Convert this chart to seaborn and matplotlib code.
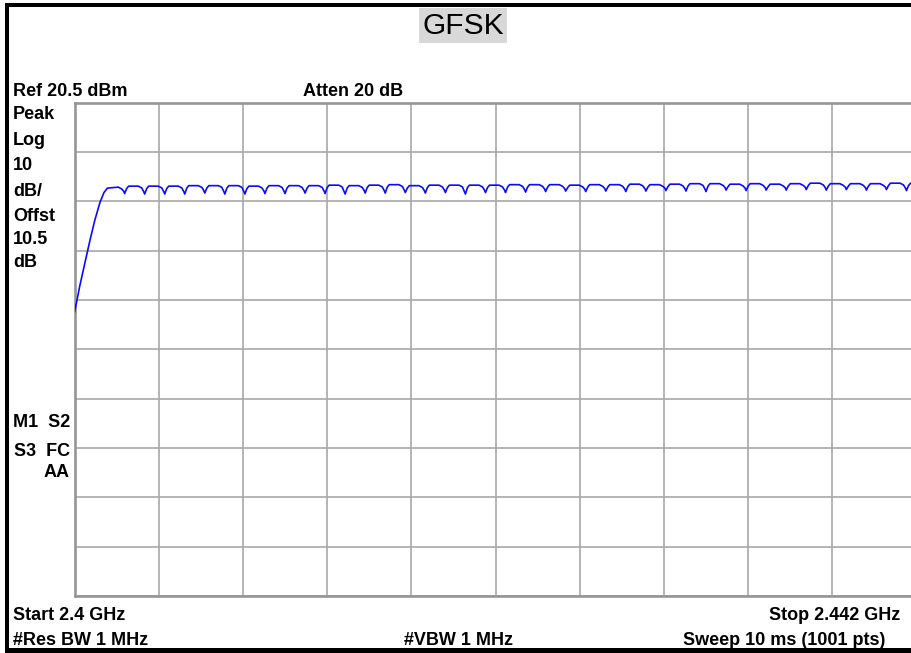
import matplotlib
matplotlib.use("Agg")
import numpy as np
import pandas as pd
import matplotlib.pyplot as plt
import seaborn as sns
from matplotlib.patches import Rectangle

# ---------------- data ----------------
title = "GFSK"
start_ghz = 2.400
stop_ghz = 2.442
ref_dbm = 20.5
db_per_div = 10
n_div = 10

# initial rise of the max-hold trace
rise_freq_ghz = [2.40000, 2.40027, 2.40052, 2.40077, 2.40102, 2.40127, 2.40147, 2.40164]
rise_dbm = [-22.0, -16.5, -11.9, -7.4, -3.2, 0.3, 2.3, 3.2]

# notches between hopping channels (MHz)
notch_mhz = [2402.5, 2403.5, 2404.5, 2405.5, 2406.5, 2407.5, 2408.5, 2409.5, 2410.5, 2411.5,
             2412.5, 2413.5, 2414.5, 2415.5, 2416.5, 2417.5, 2418.5, 2419.5, 2420.5, 2421.5,
             2422.5, 2423.5, 2424.5, 2425.5, 2426.5, 2427.5, 2428.5, 2429.5, 2430.5, 2431.5,
             2432.5, 2433.5, 2434.5, 2435.5, 2436.5, 2437.5, 2438.5, 2439.5, 2440.5, 2441.5]
# plateau level before each notch (last one is the tail after the last notch), dBm
plateau_dbm = [3.4, 3.6, 3.6, 3.6, 3.7, 3.7, 3.7, 3.6, 3.7, 3.7,
               3.7, 3.8, 3.7, 3.8, 3.9, 3.7, 3.8, 3.8, 3.8, 3.8,
               3.9, 3.9, 3.9, 3.8, 3.9, 3.9, 4.0, 3.9, 4.0, 4.1,
               4.1, 4.0, 4.1, 4.0, 4.1, 4.2, 4.1, 4.1, 4.1, 4.2, 4.2]
# bottom of each notch, dBm
notch_dbm = [2.1, 2.0, 2.0, 2.0, 2.2, 2.0, 2.0, 2.1, 2.1, 2.2,
             2.1, 2.0, 2.2, 2.2, 2.3, 2.2, 2.3, 2.0, 2.3, 2.3,
             2.4, 2.5, 2.6, 2.5, 2.6, 2.5, 2.6, 2.7, 2.6, 2.5,
             2.8, 2.7, 2.8, 2.8, 2.9, 2.8, 2.9, 2.8, 2.9, 2.7]

# ---------------- build trace vertices ----------------
xs = list(rise_freq_ghz)
ys = list(rise_dbm)
for k, d in enumerate(notch_mhz):
    p = plateau_dbm[k]
    q = notch_dbm[k]
    pn = plateau_dbm[k + 1]
    for off, lev in [(-0.32, p), (-0.15, p - 0.35), (-0.05, q + 0.5), (0.0, q),
                     (0.10, pn - 0.5), (0.20, pn)]:
        xs.append((d + off) / 1000.0)
        ys.append(lev)
xs.append(stop_ghz)
ys.append(plateau_dbm[-1])
trace = pd.DataFrame({"freq_ghz": xs, "level_dbm": ys})

# ---------------- figure ----------------
sns.set_theme(style="white")
plt.rcParams["font.family"] = ["Liberation Sans", "DejaVu Sans"]

W, H = 911, 653
fig = plt.figure(figsize=(W / 100, H / 100), dpi=100)
fig.patch.set_facecolor("white")

left, top, bottom, div_w = 74.5, 102.8, 596.0, 84.2
ax = fig.add_axes([left / W, (H - bottom) / H, div_w * n_div / W, (bottom - top) / H])
ax.set_facecolor("white")

sns.lineplot(data=trace, x="freq_ghz", y="level_dbm", ax=ax, color="#0a0aff",
             lw=1.2, sort=False, estimator=None, zorder=5)

ax.set_xlim(start_ghz, stop_ghz)
ax.set_ylim(ref_dbm - db_per_div * n_div, ref_dbm)
ax.set_xticks(np.linspace(start_ghz, stop_ghz, n_div + 1))
ax.set_yticks(np.linspace(ref_dbm - db_per_div * n_div, ref_dbm, n_div + 1))
ax.tick_params(length=0, labelbottom=False, labelleft=False)
ax.set_xlabel("")
ax.set_ylabel("")
ax.grid(True, color="#a8a8a8", lw=1.2)
for s in ax.spines.values():
    s.set_color("#969696")
    s.set_linewidth(1.9)


def fx(x):
    return x / W


def fy(y):
    return 1 - y / H


fs = 13
bold = dict(fontsize=fs, fontweight="bold", color="black", va="baseline")
fig.text(fx(13), fy(95.5), "Ref 20.5 dBm", ha="left", **bold)
fig.text(fx(303), fy(95.5), "Atten 20 dB", ha="left", **bold)
for txt, yb in [("Peak", 119), ("Log", 145), ("10", 170), ("dB/", 196),
                ("Offst", 221), ("10.5", 244), ("dB", 267)]:
    fig.text(fx(13), fy(yb), txt, ha="left", **bold)
for txt, yb in [("M1  S2", 427), ("S3  FC", 456), ("AA", 477)]:
    fig.text(fx(70), fy(yb), txt, ha="right", **bold)
fig.text(fx(13), fy(620), "Start 2.4 GHz", ha="left", **bold)
fig.text(fx(13), fy(645), "#Res BW 1 MHz", ha="left", **bold)
fig.text(fx(404), fy(645), "#VBW 1 MHz", ha="left", **bold)
fig.text(fx(900), fy(620), "Stop 2.442 GHz", ha="right", **bold)
fig.text(fx(885), fy(645), "Sweep 10 ms (1001 pts)", ha="right", **bold)

# title with gray box
fig.add_artist(Rectangle((fx(419), fy(43)), (507 - 419) / W, (43 - 8) / H,
                         transform=fig.transFigure, facecolor="#d8d8d8",
                         edgecolor="none", zorder=1))
fig.text(fx(463), fy(33.5), title, ha="center", va="baseline", fontsize=21.5,
         color="black", zorder=2)

# black frame of the screenshot
for (x0, y0, x1, y1) in [(5.3, 3.3, W, 6.8), (5.3, 3.3, 9.3, H), (5.3, 648.0, W, H)]:
    fig.add_artist(Rectangle((fx(x0), fy(y1)), (x1 - x0) / W, (y1 - y0) / H,
                             transform=fig.transFigure, facecolor="black",
                             edgecolor="none", zorder=10))

fig.savefig("out.png", dpi=100, facecolor="white")
